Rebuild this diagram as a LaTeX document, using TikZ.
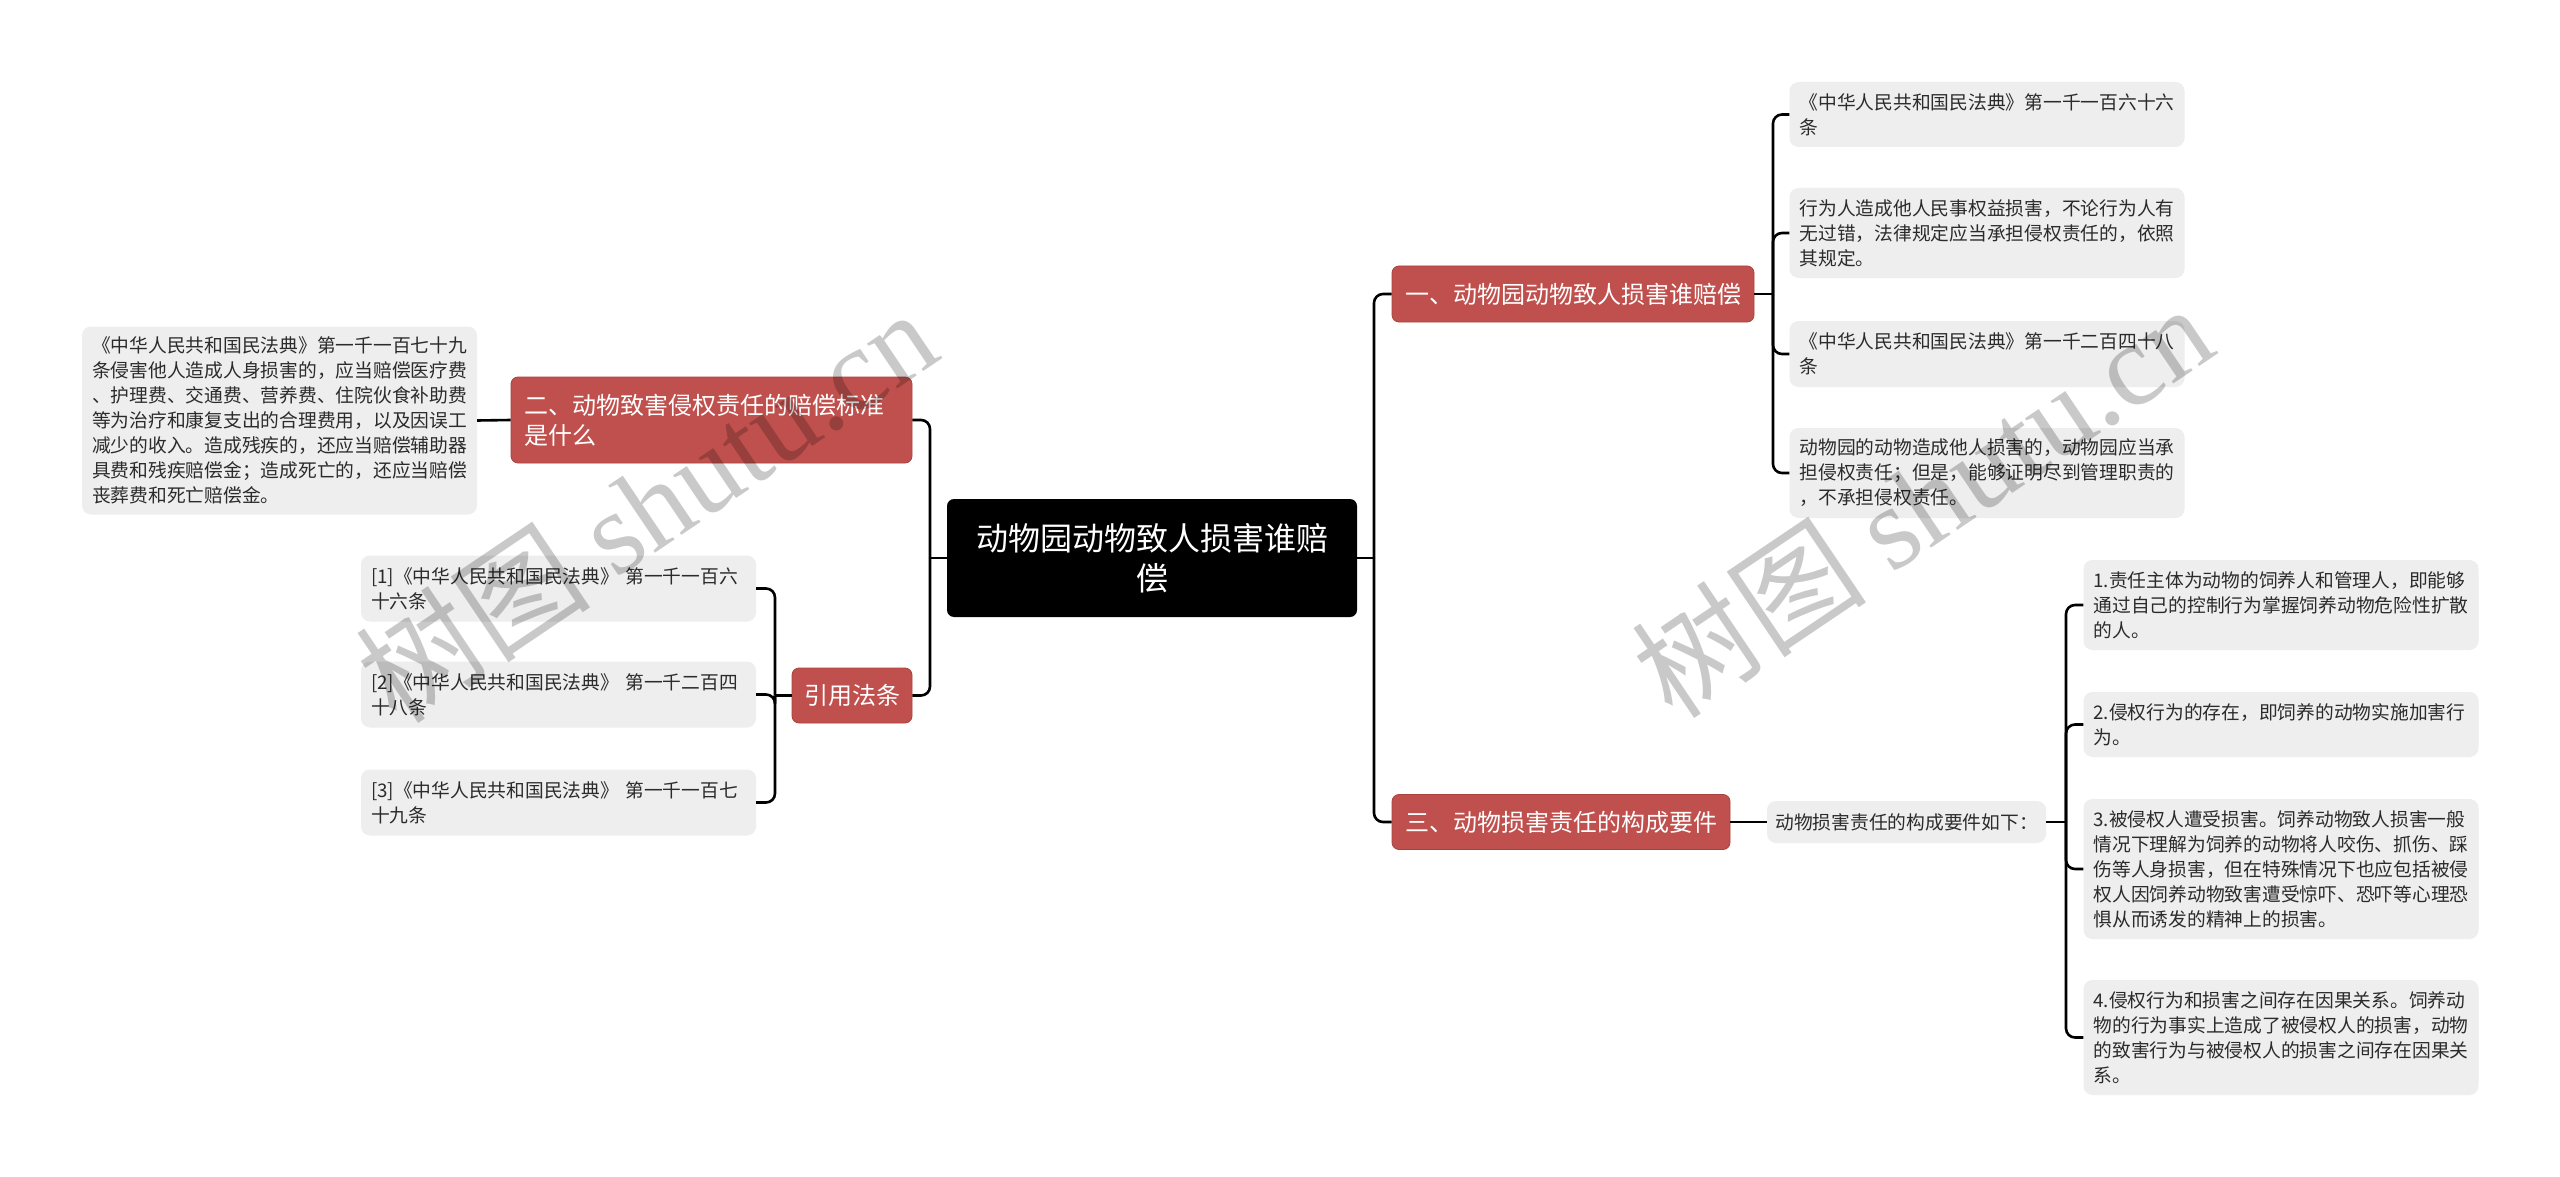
\documentclass[tikz,border=0pt]{standalone}
\usepackage{fontspec}
\setmainfont{Noto Sans CJK SC}
\newfontfamily\wmserif{Liberation Serif}
\usetikzlibrary{calc}
\definecolor{topicred}{HTML}{C0504D}
\definecolor{topicborder}{HTML}{A9423F}
\definecolor{leafgray}{HTML}{EEEEEE}
\definecolor{leaftext}{HTML}{2B2B2B}
\begin{document}
\begin{tikzpicture}[x=1pt,y=-1pt,
  conn/.style={line width=2.6pt, rounded corners=9pt},
  rootbox/.style={fill=black, rounded corners=7pt, text=white, font=\fontsize{32pt}{40pt}\selectfont, align=center, inner sep=0pt},
  topicbox/.style={fill=topicred, draw=topicborder, line width=0.8pt, rounded corners=7pt, text=white, font=\fontsize{24pt}{30pt}\selectfont, align=left, inner ysep=0pt, inner xsep=13pt},
  leafbox/.style={fill=leafgray, rounded corners=9pt, text=leaftext, font=\fontsize{18.75pt}{25pt}\selectfont, align=left, inner ysep=0pt, inner xsep=10pt, text width=375pt},
  subbox/.style={fill=leafgray, rounded corners=9pt, text=leaftext, font=\fontsize{18.75pt}{25pt}\selectfont, inner ysep=0pt, inner xsep=8pt},
  wm/.style={text=black!21, font=\fontsize{118pt}{128pt}\selectfont, inner sep=0pt},
]
\useasboundingbox (0,0) rectangle (2560,1177);
\fill[white] (0,0) rectangle (2560,1177);

% trunk coordinates
\coordinate (trunkR) at (1374,0);
\coordinate (trunkL) at (930,0);
\coordinate (trunkA) at (1773,0);
\coordinate (trunkC) at (775,0);
\coordinate (trunkS) at (2066,0);

% root
\node[rootbox, minimum width=410pt, minimum height=118pt] (root) at (1152,558) {动物园动物致人损害谁赔\\偿};

% topics
\node[topicbox, minimum width=362pt, minimum height=56pt] (top1) at (1573,294) {一、动物园动物致人损害谁赔偿};
\node[topicbox, minimum width=338pt, minimum height=55pt] (top3) at (1561,822) {三、动物损害责任的构成要件};
\node[topicbox, text width=375pt, minimum height=86pt] (top2) at (711.5,420) {二、动物致害侵权责任的赔偿标准\\是什么};
\node[topicbox, inner xsep=12pt, minimum width=120pt, minimum height=55pt] (cite) at (852,695.5) {引用法条};

% left leaf
\node[leafbox, minimum height=188pt] (leafA) at (279.5,420.5) {《中华人民共和国民法典》第一千一百七十九\\条侵害他人造成人身损害的，应当赔偿医疗费\\、护理费、交通费、营养费、住院伙食补助费\\等为治疗和康复支出的合理费用，以及因误工\\减少的收入。造成残疾的，还应当赔偿辅助器\\具费和残疾赔偿金；造成死亡的，还应当赔偿\\丧葬费和死亡赔偿金。};

% citation leaves
\node[leafbox, minimum height=66pt] (c1) at (558.5,588.5) {[1]《中华人民共和国民法典》~第一千一百六\\十六条};
\node[leafbox, minimum height=66pt] (c2) at (558.5,694.5) {[2]《中华人民共和国民法典》~第一千二百四\\十八条};
\node[leafbox, minimum height=66pt] (c3) at (558.5,802.5) {[3]《中华人民共和国民法典》~第一千一百七\\十九条};

% right top leaves
\node[leafbox, minimum height=65pt] (L1) at (1987,114.5) {《中华人民共和国民法典》第一千一百六十六\\条};
\node[leafbox, minimum height=90pt] (L2) at (1987,233) {行为人造成他人民事权益损害，不论行为人有\\无过错，法律规定应当承担侵权责任的，依照\\其规定。};
\node[leafbox, minimum height=66pt] (L3) at (1987,354) {《中华人民共和国民法典》第一千二百四十八\\条};
\node[leafbox, minimum height=90pt] (L4) at (1987,473) {动物园的动物造成他人损害的，动物园应当承\\担侵权责任；但是，能够证明尽到管理职责的\\，不承担侵权责任。};

% sub node
\node[subbox, minimum width=279pt, minimum height=42pt] (sub) at (1906.5,822) {动物损害责任的构成要件如下：};

% right bottom leaves
\node[leafbox, minimum height=90pt] (R1) at (2281,605) {1.责任主体为动物的饲养人和管理人，即能够\\通过自己的控制行为掌握饲养动物危险性扩散\\的人。};
\node[leafbox, minimum height=65pt] (R2) at (2281,724.5) {2.侵权行为的存在，即饲养的动物实施加害行\\为。};
\node[leafbox, minimum height=140pt] (R3) at (2281,869) {3.被侵权人遭受损害。饲养动物致人损害一般\\情况下理解为饲养的动物将人咬伤、抓伤、踩\\伤等人身损害，但在特殊情况下也应包括被侵\\权人因饲养动物致害遭受惊吓、恐吓等心理恐\\惧从而诱发的精神上的损害。};
\node[leafbox, minimum height=115pt] (R4) at (2281,1037.5) {4.侵权行为和损害之间存在因果关系。饲养动\\物的行为事实上造成了被侵权人的损害，动物\\的致害行为与被侵权人的损害之间存在因果关\\系。};

% connectors: root right
\draw[conn] (root.east) -- (root.east -| trunkR);
\draw[conn] (root.east -| trunkR) |- (top1.west);
\draw[conn] (root.east -| trunkR) |- (top3.west);
% root left
\draw[conn] (root.west) -- (root.west -| trunkL);
\draw[conn] (root.west -| trunkL) |- (top2.east);
\draw[conn] (root.west -| trunkL) |- (cite.east);
% topic 2
\draw[conn] (top2.west) -- (leafA.east);
% citations
\draw[conn] (cite.west) -- (cite.west -| trunkC);
\draw[conn] (cite.west -| trunkC) |- (c1.east);
\draw[conn] (cite.west -| trunkC) |- (c2.east);
\draw[conn] (cite.west -| trunkC) |- (c3.east);
% topic 1
\draw[conn] (top1.east) -- (top1.east -| trunkA);
\draw[conn] (top1.east -| trunkA) |- (L1.west);
\draw[conn] (top1.east -| trunkA) |- (L2.west);
\draw[conn] (top1.east -| trunkA) |- (L3.west);
\draw[conn] (top1.east -| trunkA) |- (L4.west);
% topic 3
\draw[conn] (top3.east) -- (sub.west);
\draw[conn] (sub.east) -- (sub.east -| trunkS);
\draw[conn] (sub.east -| trunkS) |- (R1.west);
\draw[conn] (sub.east -| trunkS) |- (R2.west);
\draw[conn] (sub.east -| trunkS) |- (R3.west);
\draw[conn] (sub.east -| trunkS) |- (R4.west);

% watermarks
\begin{scope}[blend mode=multiply]
\node[wm, rotate=34] (wm1) at (646,505) {树图 {\wmserif shutu.cn}};
\node[wm, rotate=34] (wm2) at (1922,500) {树图 {\wmserif shutu.cn}};
\end{scope}
\end{tikzpicture}
\end{document}
